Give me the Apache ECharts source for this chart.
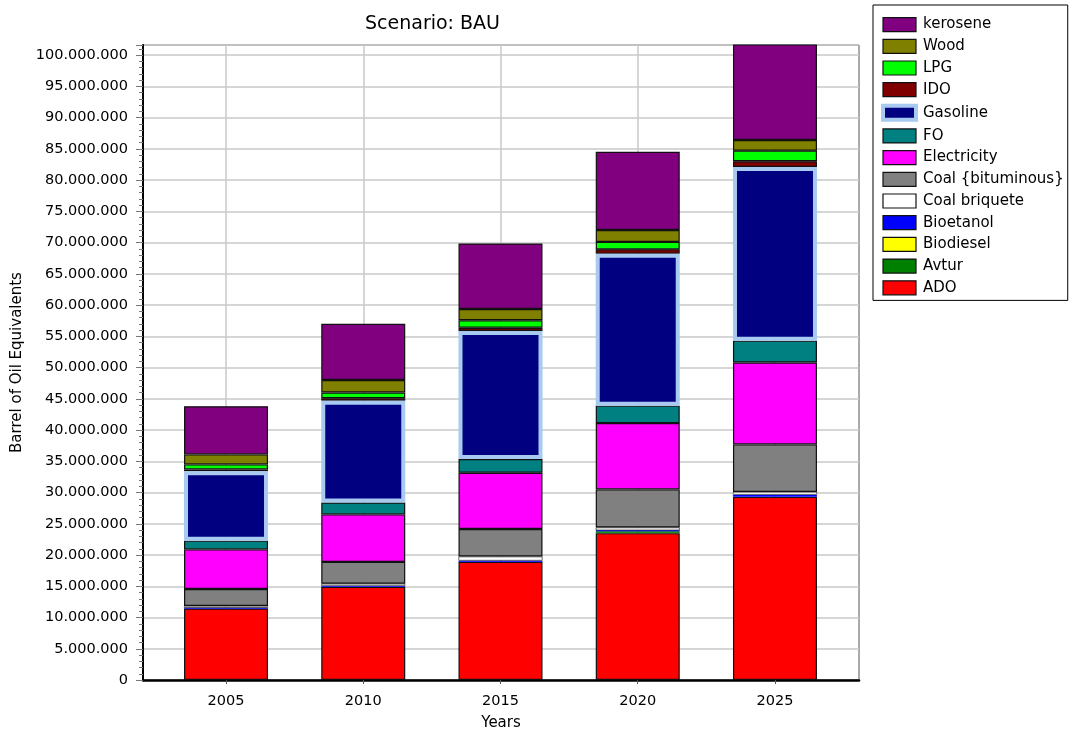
<!DOCTYPE html>
<html>
<head>
<meta charset="utf-8">
<script src="https://cdn.jsdelivr.net/npm/echarts@6/dist/echarts.min.js"></script>
<style>html,body{margin:0;padding:0;background:#fff}#c{width:1069px;height:731px}</style>
</head>
<body>
<div id="c"></div>
<script>
const years = ['2005', '2010', '2015', '2020', '2025'];
// stack order bottom -> top
const ADO          = [11450000, 14900000, 18900000, 23500000, 29300000];
const Avtur        = [0, 0, 0, 300000, 0];
const Biodiesel    = [0, 0, 0, 0, 0];
const Bioetanol    = [100000, 150000, 200000, 150000, 350000];
const CoalBriquete = [300000, 350000, 650000, 450000, 450000];
const CoalBit      = [2700000, 3500000, 4400000, 6100000, 7600000];
const Electricity  = [6350000, 7600000, 9000000, 10600000, 13100000];
const FO           = [1400000, 1900000, 2200000, 2800000, 3500000];
const Gasoline     = [11100000, 16300000, 20500000, 24300000, 27800000];
const IDO          = [300000, 400000, 500000, 700000, 900000];
const LPG          = [800000, 900000, 1200000, 1200000, 1700000];
const Wood         = [1600000, 2000000, 1800000, 1900000, 1700000];
const kerosene     = [7700000, 9000000, 10500000, 12500000, 15400000];
const yMax = 101600000;
const yInterval = 5000000;

const seriesDefs = [
  ['ADO', ADO, '#ff0000'],
  ['Avtur', Avtur, '#008000'],
  ['Biodiesel', Biodiesel, '#ffff00'],
  ['Bioetanol', Bioetanol, '#0000ff'],
  ['Coal briquete', CoalBriquete, '#ffffff'],
  ['Coal {bituminous}', CoalBit, '#808080'],
  ['Electricity', Electricity, '#ff00ff'],
  ['FO', FO, '#008080'],
  ['Gasoline', Gasoline, '#000080'],
  ['IDO', IDO, '#800000'],
  ['LPG', LPG, '#00ff00'],
  ['Wood', Wood, '#808000'],
  ['kerosene', kerosene, '#800080']
];
const legendOrder = seriesDefs.map(d => d[0]).slice().reverse();

function fmt(v){ return String(Math.round(v)).replace(/\B(?=(\d{3})+(?!\d))/g, '.'); }

const FONT = 'DejaVu Sans';
const series = seriesDefs.map(([name, vals, color]) => {
  const isGas = name === 'Gasoline';
  const thin = ['Avtur', 'Biodiesel', 'Bioetanol', 'Coal briquete'].includes(name);
  return {
    name, type: 'bar', stack: 'total', barWidth: 84,
    xAxisIndex: 1, yAxisIndex: 1,
    z: isGas ? 3 : 2,
    data: vals.map(v => (v === 0 ? '-' : v)),
    itemStyle: {
      color,
      borderColor: isGas ? '#a8c9f0' : (thin && name !== 'Coal briquete' ? color : '#111'),
      borderWidth: isGas ? 4 : (thin ? 0.6 : 1.2)
    },
    emphasis: { disabled: true }
  };
});
series[0].markLine = {
  silent: true, symbol: 'none', z: 0,
  label: { show: false },
  lineStyle: { color: '#c8c8c8', width: 1.5, type: 'solid' },
  data: years.map(y => ({ xAxis: y }))
};

const chart = echarts.init(document.getElementById('c'), null, { renderer: 'canvas' });
chart.setOption({
  animation: false,
  backgroundColor: '#fff',
  textStyle: { fontFamily: FONT },
  title: {
    text: 'Scenario: BAU', left: 360, top: 10,
    textStyle: { fontFamily: FONT, fontSize: 19, fontWeight: 'normal', color: '#000' }
  },
  legend: {
    orient: 'vertical', left: 873, top: 5,
    data: legendOrder.map(n => ({
      name: n,
      itemStyle: n === 'Gasoline' ? { borderColor: '#a8c9f0', borderWidth: 4 }
                                  : { borderColor: '#111', borderWidth: 1.2 }
    })),
    icon: 'rect', itemWidth: 33, itemHeight: 14, itemGap: 6.5,
    padding: [12, 4, 5, 8],
    borderColor: '#000', borderWidth: 1, backgroundColor: '#fff',
    textStyle: { fontFamily: FONT, fontSize: 15, color: '#000', padding: [0, 0, 0, 2] },
    selectedMode: false
  },
  grid: [
    { left: 143, right: 210, top: 45, bottom: 51, show: true, borderColor: '#555', borderWidth: 1,
      backgroundColor: 'transparent', outerBoundsMode: 'none', containLabel: false },
    { left: 157.4, right: 225.4, top: 45, bottom: 51, outerBoundsMode: 'none', containLabel: false }
  ],
  xAxis: [
    {
      gridIndex: 0, type: 'value', min: 0, max: 1,
      name: 'Years', nameLocation: 'middle', nameGap: 36,
      nameTextStyle: { fontFamily: FONT, fontSize: 15, color: '#000' },
      axisLine: { show: true, lineStyle: { color: '#000', width: 2.5 } },
      axisTick: { show: false }, axisLabel: { show: false }, splitLine: { show: false }
    },
    {
      gridIndex: 1, type: 'category', data: years,
      axisLine: { show: false },
      axisTick: { show: true, alignWithLabel: true, length: 4, lineStyle: { color: '#555' } },
      axisLabel: { fontFamily: FONT, fontSize: 14.5, color: '#000', margin: 14 },
      splitLine: { show: false }
    }
  ],
  yAxis: [
    {
      gridIndex: 0, type: 'value', min: 0, max: yMax, interval: yInterval,
      name: 'Barrel of Oil Equivalents', nameLocation: 'middle', nameGap: 117,
      nameTextStyle: { fontFamily: FONT, fontSize: 15, color: '#000' },
      axisLine: { show: true, lineStyle: { color: '#000', width: 2 } },
      axisTick: { show: true, length: 7, lineStyle: { color: '#777' } },
      minorTick: { show: true, splitNumber: 5, length: 4, lineStyle: { color: '#777' } },
      axisLabel: { fontFamily: FONT, fontSize: 14.5, color: '#000', margin: 15, showMaxLabel: false,
        formatter: v => fmt(v) },
      splitLine: { show: true, lineStyle: { color: '#c8c8c8', width: 1.5 } }
    },
    { gridIndex: 1, type: 'value', min: 0, max: yMax, interval: yInterval, show: false }
  ],
  series
});
</script>
</body>
</html>
